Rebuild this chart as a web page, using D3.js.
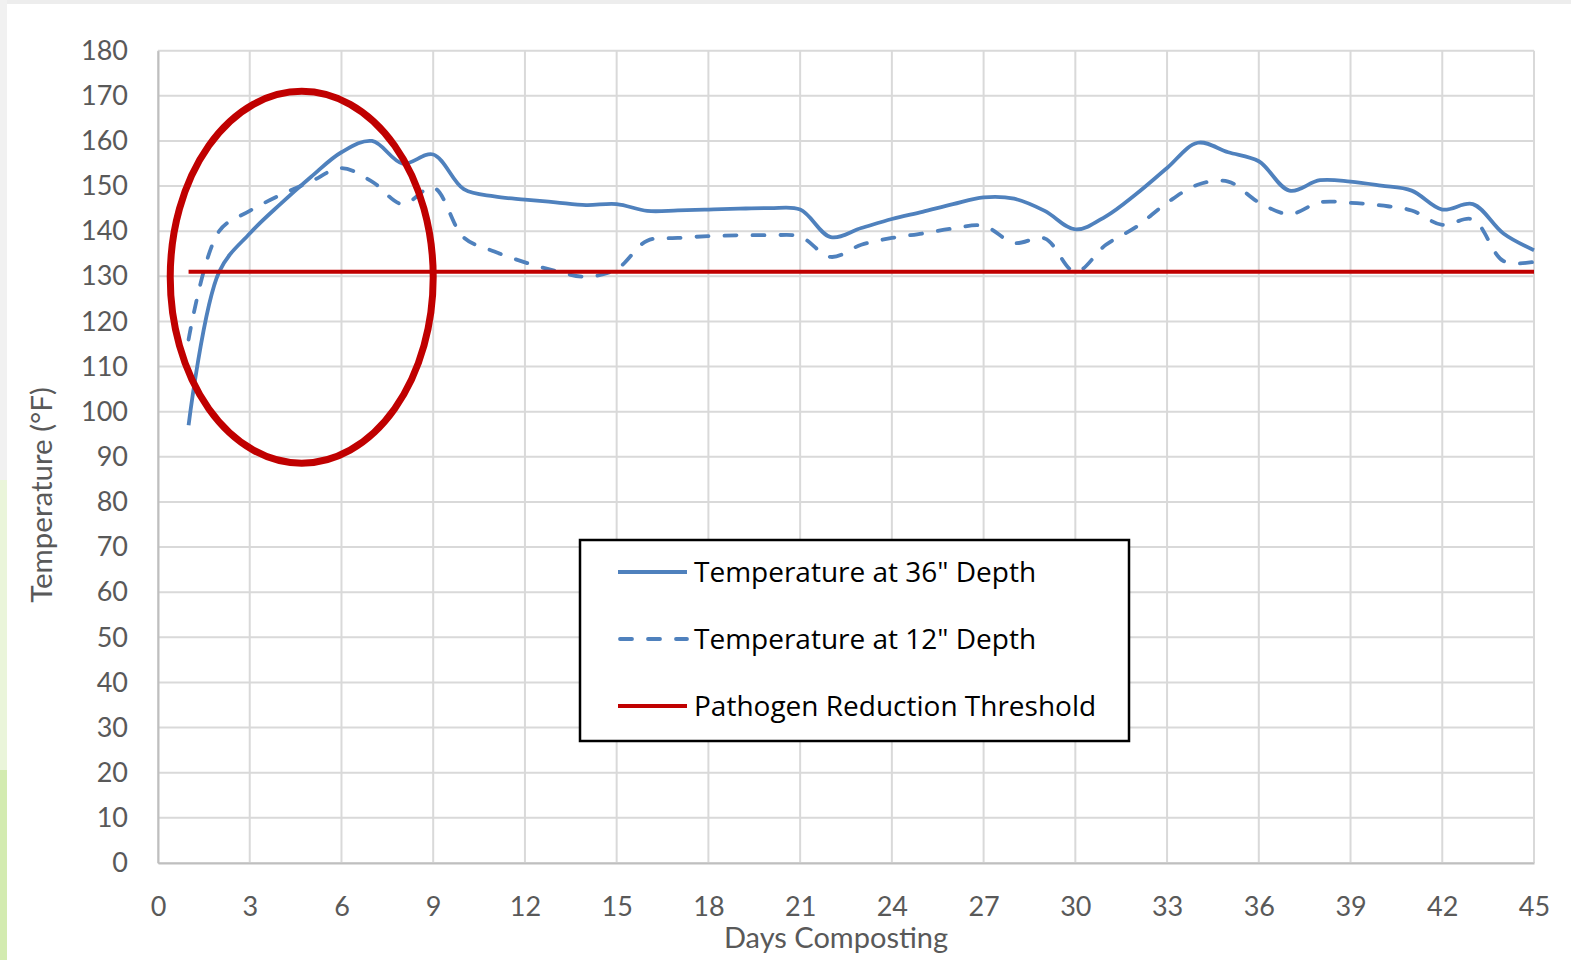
<!DOCTYPE html>
<html>
<head>
<meta charset="utf-8">
<script src="https://cdn.jsdelivr.net/npm/d3@7"></script>
<style>
  html, body { margin: 0; padding: 0; background: #ffffff; }
  svg { display: block; }
</style>
</head>
<body>
<svg id="chart" width="1571" height="960"></svg>
<script>
// ---- Data ----
const days = [1,2,3,4,5,6,7,8,9,10,11,12,13,14,15,16,17,18,19,20,21,22,23,24,25,26,27,28,29,30,31,32,33,34,35,36,37,38,39,40,41,42,43,44,45];
const temp36 = [97,131,139.5,146,152,157.5,160,155,157,149.3,147.7,147,146.4,145.8,146,144.5,144.6,144.8,145,145.1,144.8,138.7,140.7,142.7,144.3,146,147.5,147.2,144.5,140.4,143.3,148.3,154,159.6,157.5,155.5,149,151.3,151,150.1,149,144.8,146,139.5,135.8];
const temp12 = [116,140,144.5,148,151,154,151,146,149.7,138.6,135.5,133.1,131.2,129.9,131.6,137.9,138.5,138.9,139.1,139.1,138.8,134.3,137,138.5,139.5,140.6,141.2,137.4,138.4,131,137,141,146.3,150.3,151,146.4,143.8,146.4,146.3,145.7,144.6,141.4,142.6,133.4,133.2];
const thresholdValue = 131;
const xTicks = [0,3,6,9,12,15,18,21,24,27,30,33,36,39,42,45];
const yTicks = [0,10,20,30,40,50,60,70,80,90,100,110,120,130,140,150,160,170,180];
const seriesNames = ['Temperature at 36" Depth', 'Temperature at 12" Depth', 'Pathogen Reduction Threshold'];
const xTitle = "Days Composting";
const yTitle = "Temperature (°F)";
// highlight ellipse annotation (data units): center day, center temp, radius in days, radius in °F
const highlight = { day: 4.7, temp: 129.8, rDays: 4.3, rTemp: 41.2 };

// ---- Layout ----
const svg = d3.select("#chart");
const plot = { left: 158, right: 1534, top: 50.7, bottom: 863 };
const x = d3.scaleLinear().domain([0, 45]).range([plot.left, plot.right]);
const y = d3.scaleLinear().domain([0, 180]).range([plot.bottom, plot.top]);

const blue = "#4F81BD", red = "#C00000", grid = "#D9D9D9", labelColor = "#595959";
const font = "Lato, 'Open Sans', sans-serif";

// page frame decoration
svg.append("rect").attr("x", 0).attr("y", 0).attr("width", 1571).attr("height", 960).attr("fill", "#ffffff");
svg.append("rect").attr("x", 0).attr("y", 0).attr("width", 1571).attr("height", 4).attr("fill", "#EDEDED");
svg.append("rect").attr("x", 0).attr("y", 0).attr("width", 7).attr("height", 960).attr("fill", "#F1F1F1");
svg.append("rect").attr("x", 0).attr("y", 480).attr("width", 7).attr("height", 290).attr("fill", "#EAF5DA");
svg.append("rect").attr("x", 0).attr("y", 770).attr("width", 7).attr("height", 190).attr("fill", "#D3EBB0");

// grid
const g = svg.append("g");
g.selectAll(".hgrid").data(yTicks).enter().append("line")
  .attr("x1", plot.left).attr("x2", plot.right)
  .attr("y1", d => y(d)).attr("y2", d => y(d))
  .attr("stroke", grid).attr("stroke-width", 2);
g.selectAll(".vgrid").data(xTicks).enter().append("line")
  .attr("y1", plot.top).attr("y2", plot.bottom)
  .attr("x1", d => x(d)).attr("x2", d => x(d))
  .attr("stroke", grid).attr("stroke-width", 2);

// axes
const xAxis = d3.axisBottom(x).tickValues(xTicks).tickSize(0).tickPadding(34).tickFormat(d3.format("d"));
const yAxis = d3.axisLeft(y).tickValues(yTicks).tickSize(0).tickPadding(30).tickFormat(d3.format("d"));
const gx = svg.append("g").attr("transform", `translate(0,${plot.bottom})`).call(xAxis);
const gy = svg.append("g").attr("transform", `translate(${plot.left},0)`).call(yAxis);
[gx, gy].forEach(a => {
  a.select(".domain").attr("stroke", "#BFBFBF").attr("stroke-width", 2);
  a.selectAll("text").attr("fill", labelColor).style("font-family", font).style("font-size", "27px");
});
gx.selectAll("text").attr("dy", "0.71em");

// axis titles
svg.append("text").attr("x", 836).attr("y", 948)
  .attr("text-anchor", "middle").attr("fill", labelColor)
  .style("font-family", font).style("font-size", "29px").text(xTitle);
svg.append("text").attr("transform", `translate(52,495) rotate(-90)`)
  .attr("text-anchor", "middle").attr("fill", labelColor)
  .style("font-family", font).style("font-size", "29.5px").text(yTitle);

// lines
const line = d3.line().x((d, i) => x(days[i])).y(d => y(d)).curve(d3.curveCatmullRom);
svg.append("path").datum(temp12).attr("d", line).attr("fill", "none")
  .attr("stroke", blue).attr("stroke-width", 3.8)
  .attr("stroke-dasharray", "12,16").attr("stroke-linecap", "round");
svg.append("path").datum(temp36).attr("d", line).attr("fill", "none")
  .attr("stroke", blue).attr("stroke-width", 3.8).attr("stroke-linejoin", "round");
svg.append("line")
  .attr("x1", x(days[0])).attr("x2", x(days[days.length - 1]))
  .attr("y1", y(thresholdValue)).attr("y2", y(thresholdValue))
  .attr("stroke", red).attr("stroke-width", 4);

// highlight ellipse
svg.append("ellipse")
  .attr("cx", x(highlight.day)).attr("cy", y(highlight.temp))
  .attr("rx", x(highlight.rDays) - x(0)).attr("ry", y(0) - y(highlight.rTemp))
  .attr("fill", "none").attr("stroke", red).attr("stroke-width", 7);

// legend
const lg = svg.append("g").attr("transform", "translate(580,540)");
lg.append("rect").attr("width", 549).attr("height", 201).attr("fill", "#ffffff")
  .attr("stroke", "#000000").attr("stroke-width", 2.5);
const legendItems = [
  { name: seriesNames[0], color: blue, dash: null },
  { name: seriesNames[1], color: blue, dash: "12,16" },
  { name: seriesNames[2], color: red, dash: null }
];
legendItems.forEach((it, i) => {
  const yy = 32 + i * 67;
  const l = lg.append("line").attr("x1", 38).attr("x2", 107).attr("y1", yy).attr("y2", yy)
    .attr("stroke", it.color).attr("stroke-width", 3.8);
  if (it.dash) l.attr("stroke-dasharray", it.dash).attr("stroke-linecap", "round").attr("x1", 40);
  lg.append("text").attr("x", 114).attr("y", yy).attr("dy", "0.36em")
    .attr("fill", "#000000").style("font-family", "'Open Sans', Lato, sans-serif").style("font-size", "28px")
    .text(it.name);
});
</script>
</body>
</html>
